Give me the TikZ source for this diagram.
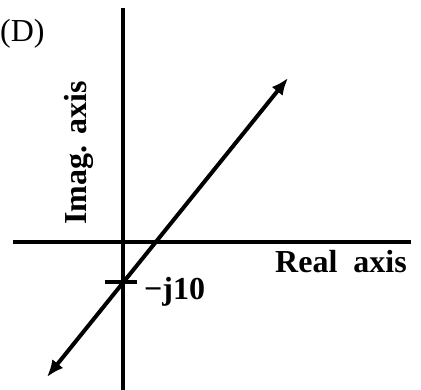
\documentclass[tikz,border=0pt]{standalone}
\usepackage{fontspec}
\setmainfont{Liberation Serif}
\usetikzlibrary{arrows.meta}
\tikzset{
  axisline/.style={line width=4pt},
  lbl/.style={inner sep=0pt, font=\fontsize{32}{32}\selectfont\bfseries},
  locus/.style={line width=4pt, {Latex[length=17pt,width=14pt]}-{Latex[length=17pt,width=14pt]}}
}
\begin{document}
\begin{tikzpicture}[x=1pt,y=-1pt]
\useasboundingbox (0,0) rectangle (421,390);
\coordinate (vtop) at (123,8);
\coordinate (vbot) at (123,390);
\coordinate (hl) at (13,242);
\coordinate (hr) at (411,242);
\coordinate (tl) at (105,282);
\coordinate (tr) at (137,282);
\coordinate (lo) at (47,377);
\coordinate (hi) at (288,78);
\draw[axisline] (vtop) -- (vbot);
\draw[axisline] (hl) -- (hr);
\draw[axisline] (tl) -- (tr);
\draw[locus] (lo) -- (hi);
\node[inner sep=0pt, anchor=base west, font=\fontsize{32}{32}\selectfont] (d) at (0,42) {(D)};
\node[lbl, rotate=90] (imag) at (79,153) {Imag. axis};
\node[lbl, anchor=base west] (real) at (275,273) {Real\ \ axis};
\node[lbl, anchor=base west] (j10) at (144,300) {−j10};
\end{tikzpicture}
\end{document}
